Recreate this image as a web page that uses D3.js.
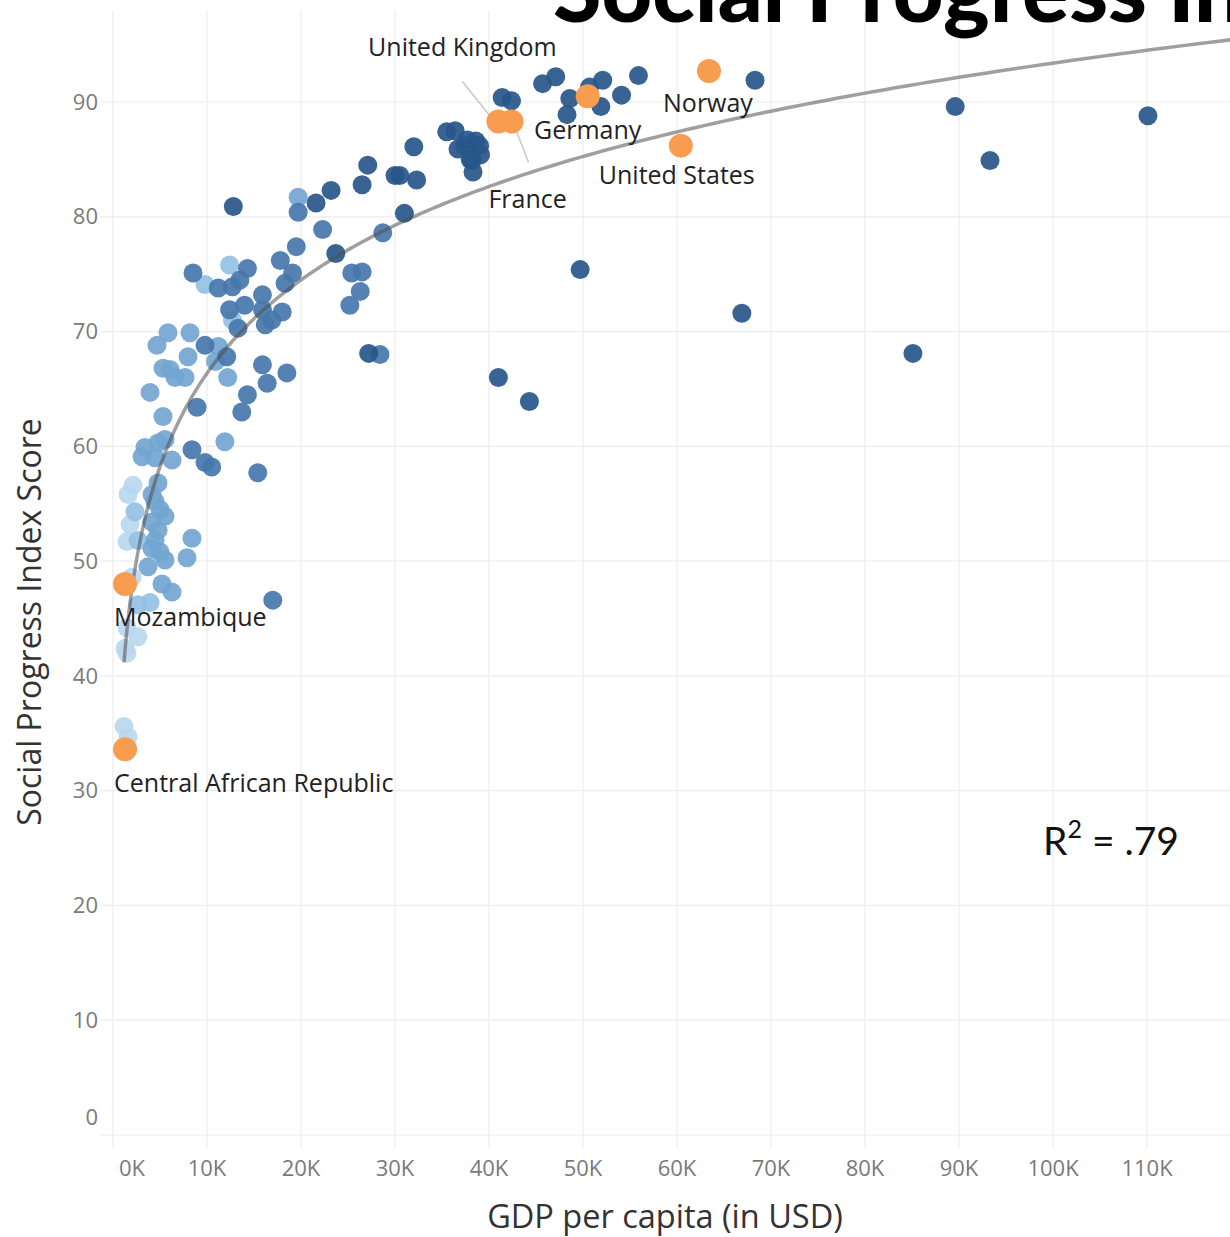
<!DOCTYPE html>
<html><head><meta charset="utf-8">
<script src="https://cdn.jsdelivr.net/npm/d3@7"></script>
<style>body{margin:0;background:#fff;overflow:hidden}svg{display:block}</style>
</head><body>
<svg id="c" width="1230" height="1237"></svg>
<script>
// ---------- DATA ----------
const xTicks = [0,10,20,30,40,50,60,70,80,90,100,110]; // GDP per capita, thousands USD
const yTicks = [0,10,20,30,40,50,60,70,80,90];

// shade group 0 (lightest)
const g0Gdp = [2.13,1.6,1.81,1.49,2.02,1.49,2.66,1.28,1.49,1.17,1.6];
const g0Spi = [56.6,55.8,53.2,51.7,48.6,44.2,43.4,42.4,42.0,35.6,34.7];
// shade group 1 (light)
const g1Gdp = [2.34,2.66,3.94,2.66,12.4,9.79,12.7];
const g1Spi = [54.3,51.8,46.4,46.2,75.8,74.1,71.0];
// shade group 2 (light-mid)
const g2Gdp = [5.85,4.68,8.19,11.2,7.98,5.32,10.9,12.2,3.94,5.32,6.06,7.66,6.6,11.9,19.7,
  3.4,4.79,5.53,3.09,6.28,4.47,4.79,4.15,4.47,5.0,5.53,4.15,4.79,4.47,8.4,4.15,5.0,5.53,7.87,3.72,5.21,6.28];
const g2Spi = [69.9,68.8,69.9,68.7,67.8,66.8,67.4,66.0,64.7,62.6,66.7,66.0,66.0,60.4,81.7,
  59.9,60.3,60.6,59.1,58.8,59.0,56.8,55.8,55.2,54.5,53.9,53.4,52.7,51.8,52.0,51.1,50.8,50.1,50.3,49.5,48.0,47.3];
// shade group 3 (mid)
const g3Gdp = [9.79,13.3,11.2,12.7,13.5,14.3,15.9,17.8,19.5,18.3,19.1,12.4,14.0,15.9,16.2,16.9,18.0,15.9,18.5,16.4,
  14.3,13.7,8.94,9.79,10.5,15.4,19.7,22.3,28.7,28.4,25.4,26.5,26.3,25.2,8.4,17.0,12.1,8.51];
const g3Spi = [68.8,70.3,73.8,73.9,74.5,75.5,73.2,76.2,77.4,74.2,75.1,71.9,72.3,71.9,70.6,71.0,71.7,67.1,66.4,65.5,
  64.5,63.0,63.4,58.6,58.2,57.7,80.4,78.9,78.6,68.0,75.1,75.2,73.5,72.3,59.7,46.6,67.8,75.1];
// shade group 4 (dark)
const g4Gdp = [41.4,42.4,45.7,47.1,48.3,48.6,50.7,52.1,51.9,54.1,55.9,68.3,89.6,110.1,93.3,35.5,36.4,36.7,37.4,38.0,
  38.3,38.6,39.0,39.1,37.7,38.2,32.0,27.1,26.5,30.0,30.5,32.3,23.2,21.6,31.0,12.8,23.7,49.7,66.9,85.1,27.2,41.0,44.3];
const g4Spi = [90.4,90.1,91.6,92.2,88.9,90.3,91.3,91.9,89.6,90.6,92.3,91.9,89.6,88.8,84.9,87.4,87.5,85.9,86.2,85.0,
  83.9,86.6,86.2,85.4,86.7,84.9,86.1,84.5,82.8,83.6,83.6,83.2,82.3,81.2,80.3,80.9,76.8,75.4,71.6,68.1,68.1,66.0,63.9];

// highlighted countries
const hlNames = ["United Kingdom","France","Germany","Norway","United States","Mozambique","Central African Republic"];
const hlGdp = [41.0,42.4,50.5,63.4,60.4,1.28,1.28];
const hlSpi = [88.3,88.3,90.5,92.7,86.2,48.0,33.6];

const rSquaredText = ".79";

// ---------- CHART ----------
const svg = d3.select("#c");
const W = 1230, H = 1237;
const x = d3.scaleLinear().domain([0,120]).range([113,1241]);
const y = d3.scaleLinear().domain([0,98]).range([1135,10.2]);
const FONT = "'Open Sans', 'Noto Sans', sans-serif";

// gridlines
const grid = svg.append("g");
grid.selectAll(".vg").data(xTicks).join("line")
  .attr("x1", d=>x(d)).attr("x2", d=>x(d)).attr("y1", y(98)).attr("y2", y(0)+13)
  .attr("stroke", "#ececec").attr("stroke-width", 1.2);
grid.selectAll(".hg").data(yTicks).join("line")
  .attr("x1", 100).attr("x2", W).attr("y1", d=>y(d)).attr("y2", d=>y(d))
  .attr("stroke", "#ececec").attr("stroke-width", 1.2);

// tick labels
svg.append("g").selectAll("text").data(yTicks).join("text")
  .attr("x", 98).attr("y", d=> y(d) - (d===0?18:0)).attr("dy","0.35em")
  .attr("text-anchor","end").attr("font-family",FONT).attr("font-size",22).attr("fill","#7a7a7a")
  .text(d=>d);
svg.append("g").selectAll("text").data(xTicks).join("text")
  .attr("x", d=> x(d) + (d===0?19:0)).attr("y", 1168).attr("dy","0.35em")
  .attr("text-anchor","middle").attr("font-family",FONT).attr("font-size",22).attr("fill","#7a7a7a")
  .text(d=>d+"K");

// axis titles
svg.append("text").attr("x",665).attr("y",1217).attr("dy","0.35em").attr("text-anchor","middle")
  .attr("font-family",FONT).attr("font-size",32.5).attr("fill","#333").text("GDP per capita (in USD)");
svg.append("text").attr("transform","translate(30,622) rotate(-90)").attr("dy","0.35em").attr("text-anchor","middle")
  .attr("font-family",FONT).attr("font-size",32).attr("fill","#333").text("Social Progress Index Score");

// points
const groups = [
  {gdp:g0Gdp, spi:g0Spi, color:"#b8d8ef"},
  {gdp:g1Gdp, spi:g1Spi, color:"#95c0e3"},
  {gdp:g2Gdp, spi:g2Spi, color:"#73a5d1"},
  {gdp:g3Gdp, spi:g3Spi, color:"#4677ab"},
  {gdp:g4Gdp, spi:g4Spi, color:"#27568a"}
];
const pts = svg.append("g");
groups.forEach(g=>{
  const data = g.gdp.map((v,i)=>({gdp:v, spi:g.spi[i]}));
  pts.append("g").selectAll("circle").data(data).join("circle")
    .attr("cx", d=>x(d.gdp)).attr("cy", d=>y(d.spi)).attr("r", 9.5)
    .attr("fill", g.color).attr("fill-opacity", 0.92);
});

// logarithmic trend fitted on all points
const all = [];
groups.forEach(g=> g.gdp.forEach((v,i)=> all.push([v, g.spi[i]])));
hlGdp.forEach((v,i)=> all.push([v, hlSpi[i]]));
const lx = all.map(d=>Math.log(d[0])), ly = all.map(d=>d[1]);
const mx = d3.mean(lx), my = d3.mean(ly);
const b = d3.sum(lx.map((v,i)=>(v-mx)*(ly[i]-my))) / d3.sum(lx.map(v=>(v-mx)*(v-mx)));
const a = my - b*mx;
const xmin = d3.min(all, d=>d[0]);
const trend = d3.range(0, 301).map(i => { const g = xmin * Math.pow(125/xmin, i/300); return [g, a + b*Math.log(g)]; });
svg.append("path").datum(trend)
  .attr("d", d3.line().x(d=>x(d[0])).y(d=>y(d[1])))
  .attr("fill","none").attr("stroke","rgb(80,80,80)").attr("stroke-opacity",0.55).attr("stroke-width",3.5);

// highlighted points + labels
const labelPos = {
  "United Kingdom": {dx:-36, dy:-74, anchor:"middle", leader:[-36,-40,-8,-5]},
  "France": {dx:16, dy:78, anchor:"middle", leader:[5,10,17,41]},
  "Germany": {dx:0, dy:34, anchor:"middle"},
  "Norway": {dx:-1, dy:32, anchor:"middle"},
  "United States": {dx:-4, dy:30, anchor:"middle"},
  "Mozambique": {dx:-11, dy:33, anchor:"start"},
  "Central African Republic": {dx:-11, dy:34, anchor:"start"}
};
const hl = hlNames.map((n,i)=>({name:n, gdp:hlGdp[i], spi:hlSpi[i]}));
hl.forEach(d=>{
  const p = labelPos[d.name];
  if (p.leader) {
    svg.append("line")
      .attr("x1", x(d.gdp)+p.leader[0]).attr("y1", y(d.spi)+p.leader[1])
      .attr("x2", x(d.gdp)+p.leader[2]).attr("y2", y(d.spi)+p.leader[3])
      .attr("stroke","#c8c8c8").attr("stroke-width",1.5);
  }
});
svg.append("g").selectAll("circle").data(hl).join("circle")
  .attr("cx", d=>x(d.gdp)).attr("cy", d=>y(d.spi)).attr("r", 12)
  .attr("fill", "#f89c50");
svg.append("g").selectAll("text").data(hl).join("text")
  .attr("x", d=>x(d.gdp)+labelPos[d.name].dx).attr("y", d=>y(d.spi)+labelPos[d.name].dy)
  .attr("dy","0.35em").attr("text-anchor", d=>labelPos[d.name].anchor)
  .attr("font-family",FONT).attr("font-size",25).attr("fill","#222")
  .text(d=>d.name);

// R squared
const rt = svg.append("text").attr("x",1043).attr("y",855)
  .attr("font-family","Lato, 'Open Sans', sans-serif").attr("font-size",39).attr("fill","#111");
rt.append("tspan").text("R");
rt.append("tspan").attr("font-size",25).attr("dy",-17).text("2");
rt.append("tspan").attr("dy",17).text(" = " + rSquaredText);

// Title (clipped by the frame like the reference)
svg.append("text").attr("x",553).attr("y",22)
  .attr("font-family","Lato, 'Open Sans', sans-serif").attr("font-weight",900).attr("font-size",88).attr("fill","#000")
  .text("Social Progress Index");
</script>
</body></html>
